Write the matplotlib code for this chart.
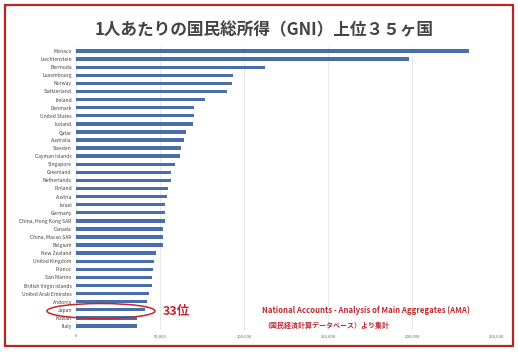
import matplotlib
matplotlib.use("Agg")
import matplotlib.pyplot as plt
from matplotlib.patches import Ellipse, Rectangle
import numpy as np

plt.rcParams['font.family'] = ['Noto Sans CJK JP', 'DejaVu Sans']

# 国名（上から順）
countries = [
    'Monaco', 'Liechtenstein', 'Bermuda', 'Luxembourg', 'Norway', 'Switzerland',
    'Ireland', 'Denmark', 'United States', 'Iceland', 'Qatar', 'Australia',
    'Sweden', 'Cayman Islands', 'Singapore', 'Greenland', 'Netherlands',
    'Finland', 'Austria', 'Israel', 'Germany', 'China, Hong Kong SAR', 'Canada',
    'China, Macao SAR', 'Belgium', 'New Zealand', 'United Kingdom', 'France',
    'San Marino', 'British Virgin Islands', 'United Arab Emirates', 'Andorra',
    'Japan', 'Kuwait', 'Italy'
]
# 1人あたりGNI（USD）
gni = [
    234000, 198000, 112500, 93500, 93000, 90000,
    77000, 70500, 70000, 69800, 65500, 64000,
    62500, 62000, 59000, 56500, 56300,
    55000, 54000, 53200, 52800, 52700, 52000,
    51900, 51800, 47600, 46400, 45800,
    45300, 45000, 43200, 42000,
    41200, 36600, 36200
]
xticks = [0, 50000, 100000, 150000, 200000, 250000]

W, H = 518, 352
fig = plt.figure(figsize=(W / 100, H / 100), dpi=100)
ax = fig.add_axes([76 / W, 1 - 330 / H, (496 - 76) / W, (330 - 47) / H])

y = np.arange(len(countries))
ax.barh(y, gni, height=0.42, color='#4a6ea9')
ax.set_ylim(len(countries) - 0.5, -0.5)
ax.set_xlim(0, 250000)
ax.set_yticks(y)
ax.set_yticklabels(countries, fontsize=3.6, color='#404040')
ax.set_xticks(xticks)
ax.set_xticklabels([f"{v:,}" for v in xticks], fontsize=3, color='#606060')
ax.tick_params(length=0, pad=3)
ax.grid(axis='x', color='#e4e4e4', linewidth=0.6)
ax.set_axisbelow(True)
for s in ax.spines.values():
    s.set_visible(False)

fig.text(264 / W, 1 - 30 / H, '1人あたりの国民総所得（GNI）上位３５ヶ国',
         ha='center', va='center', fontsize=12, fontweight='bold', color='#444444')

# 日本の強調
fig.patches.append(Ellipse((101 / W, 1 - 311 / H), 108 / W, 15 / H,
                           transform=fig.transFigure, fill=False,
                           edgecolor='#c0282d', linewidth=1.1))
fig.text(163 / W, 1 - 311 / H, '33位', ha='left', va='center',
         fontsize=9, fontweight='bold', color='#c0282d')
fig.text(262 / W, 1 - 310 / H, 'National Accounts - Analysis of Main Aggregates (AMA)',
         ha='left', va='center', fontsize=5.6, fontweight='bold', color='#c0282d')
fig.text(263 / W, 1 - 325 / H, '（国民経済計算データベース）より集計',
         ha='left', va='center', fontsize=5, fontweight='bold', color='#c0282d')

# 外枠
fig.patches.append(Rectangle((5 / W, 1 - 346 / H), 508 / W, 341 / H,
                             transform=fig.transFigure, fill=False,
                             edgecolor='#b5262b', linewidth=1.6))

fig.savefig('out.png', dpi=100)
